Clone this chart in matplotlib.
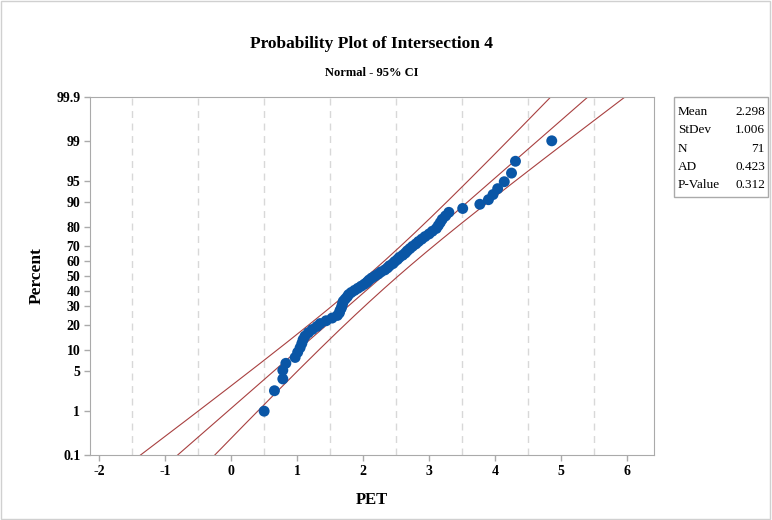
import matplotlib
matplotlib.use("Agg")
import matplotlib.pyplot as plt
import numpy as np
from statistics import NormalDist
from matplotlib.patches import Rectangle

# ---- data ----
pet_values = [0.50, 0.656, 0.783, 0.783, 0.829, 0.97, 1.008, 1.045, 1.071, 1.09,
              1.12, 1.17, 1.23, 1.30, 1.35, 1.44, 1.53, 1.61, 1.64, 1.65,
              1.67, 1.68, 1.69, 1.70, 1.73, 1.76, 1.78, 1.82, 1.87, 1.92,
              1.97, 2.02, 2.06, 2.09, 2.13, 2.18, 2.23, 2.27, 2.33, 2.37,
              2.40, 2.45, 2.48, 2.52, 2.55, 2.60, 2.64, 2.67, 2.71, 2.75,
              2.80, 2.84, 2.89, 2.94, 3.00, 3.05, 3.11, 3.14, 3.17, 3.20,
              3.25, 3.30, 3.51, 3.77, 3.90, 3.97, 4.04, 4.14, 4.25, 4.31, 4.86]
stat_mean = 2.298
stat_sd = 1.006
stat_n = 71
stat_ad = 0.423
stat_p = 0.312
legend_labels = ["Mean", "StDev", "N", "AD", "P-Value"]
legend_values = ["2.298", "1.006", "71", "0.423", "0.312"]
y_ticks_pct = [0.1, 1, 5, 10, 20, 30, 40, 50, 60, 70, 80, 90, 95, 99, 99.9]
y_tick_labels = ["0.1", "1", "5", "10", "20", "30", "40", "50", "60", "70", "80", "90", "95", "99", "99.9"]
x_ticks = [-2, -1, 0, 1, 2, 3, 4, 5, 6]

nd = NormalDist()
def zq(pct):
    return nd.inv_cdf(pct / 100.0)

serif = ["Liberation Serif", "DejaVu Serif"]
plt.rcParams['font.family'] = serif

fig = plt.figure(figsize=(7.72, 5.2), dpi=100)
fig.patches.append(Rectangle((0.001, 0.001), 0.997, 0.997, transform=fig.transFigure,
                             fill=False, edgecolor="#D0D0D0", linewidth=1))
ax = fig.add_axes([90/772, 1-455/520, (654-90)/772, (455-97)/520])

n = len(pet_values)
xs = np.sort(np.array(pet_values))
ranks = np.arange(1, n + 1)
pp = (ranks - 0.3) / (n + 0.4)
zs = np.array([nd.inv_cdf(p) for p in pp])

# fitted line and 95% CI
zl = np.linspace(zq(0.1) - 0.2, zq(99.9) + 0.2, 200)
xfit = stat_mean + stat_sd * zl
half = 1.959964 * stat_sd * np.sqrt((1 + zl**2 / 2) / stat_n)
lc = "#A84040"
ax.plot(xfit, zl, color=lc, lw=0.8, zorder=2)
ax.plot(xfit - half, zl, color=lc, lw=0.8, zorder=2)
ax.plot(xfit + half, zl, color=lc, lw=0.8, zorder=2)

ax.scatter(xs, zs, s=62, color="#0A56A6", edgecolors="none", zorder=3)

# grid at half-integers
for g in np.arange(-1.5, 6.0, 1.0):
    ax.axvline(g, color="#D8D8D8", lw=1.0, ls=(0, (5, 4)), zorder=1)

ax.set_xlim(-2.14, 6.41)
ax.set_ylim(zq(0.1), zq(99.9))
ax.set_xticks(x_ticks)
ax.set_xticklabels([str(t) for t in x_ticks], fontweight="bold", fontsize=10)
ax.set_yticks([zq(v) for v in y_ticks_pct])
ax.set_yticklabels(y_tick_labels, fontweight="bold", fontsize=10)
for s in ax.spines.values():
    s.set_color("#AAAAAA")
ax.tick_params(axis="both", colors="#AAAAAA", labelcolor="black", length=4, width=1, pad=3)

ax.set_xlabel("PET", fontweight="bold", fontsize=12, labelpad=10)
ax.set_ylabel("Percent", fontweight="bold", fontsize=12.5, labelpad=8)

fig.text(372/772, 1-44/520, "Probability Plot of Intersection 4", ha="center", va="center",
         fontweight="bold", fontsize=12.5)
fig.text(372/772, 1-73/520, "Normal - 95% CI", ha="center", va="center",
         fontweight="bold", fontsize=9)

# stats box
bx0, by0, bx1, by1 = 674, 97, 768, 197
fig.patches.append(Rectangle((bx0/772, 1-by1/520), (bx1-bx0)/772, (by1-by0)/520,
                             transform=fig.transFigure, fill=False, edgecolor="#AAAAAA", lw=1))
for i, (lab, val) in enumerate(zip(legend_labels, legend_values)):
    yy = 1 - (112 + i * 18.3) / 520
    fig.text(678/772, yy, lab, ha="left", va="center", fontsize=9.5)
    fig.text(765/772, yy, val, ha="right", va="center", fontsize=9.5)

fig.savefig("out.png", dpi=100)
